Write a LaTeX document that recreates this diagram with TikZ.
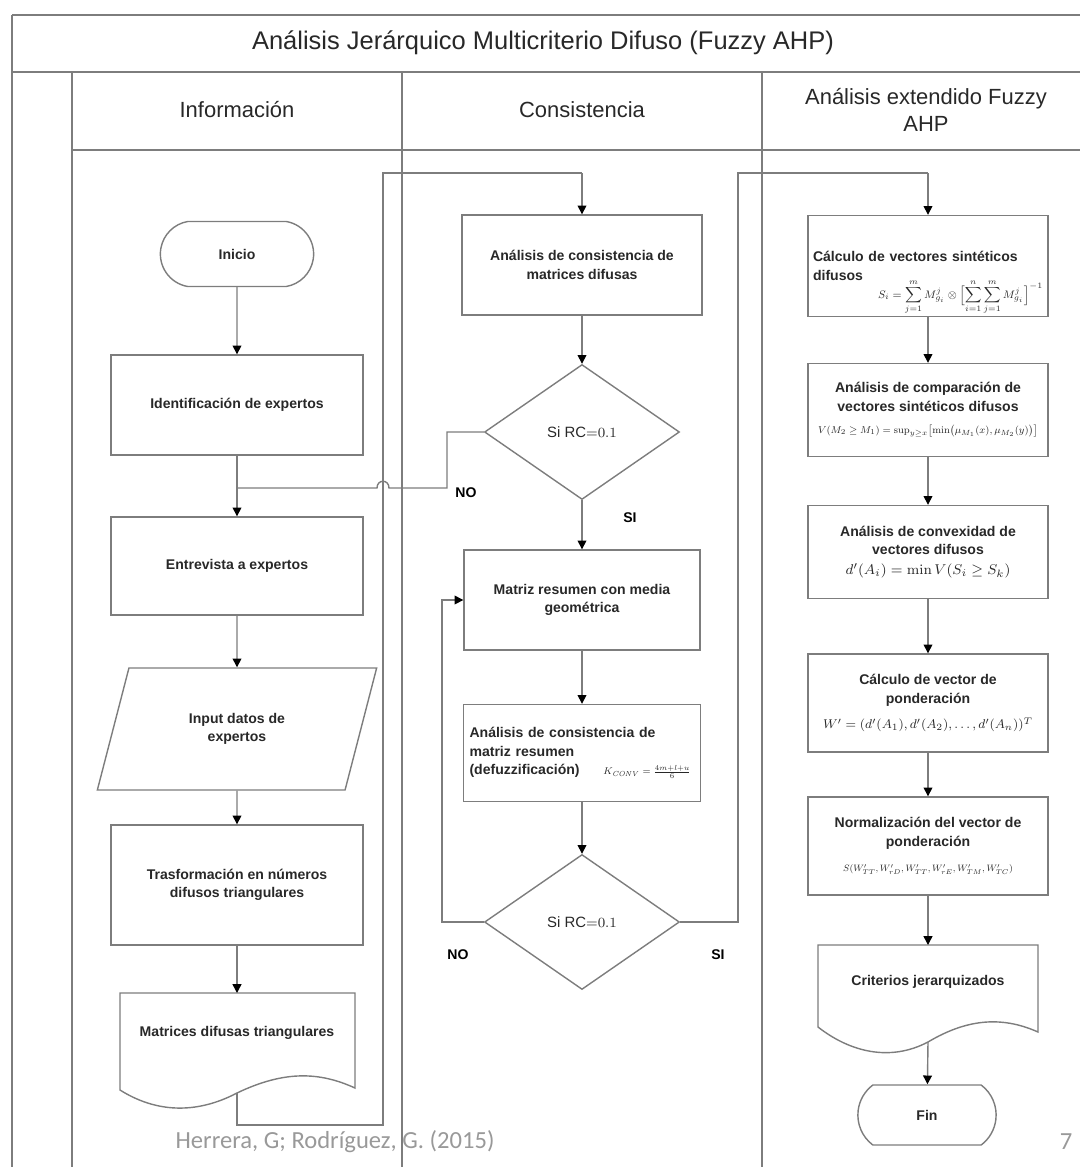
\documentclass[tikz,border=0pt]{standalone}
\usepackage[no-math]{fontspec}
\setmainfont{Liberation Sans}
\newfontfamily\footfont{Carlito}
\usepackage{amsmath}
\usepackage{graphicx}
\usetikzlibrary{shapes.geometric}
\usetikzlibrary{shapes.misc}
\usetikzlibrary{arrows.meta}
\definecolor{linegray}{RGB}{125,125,125}
\definecolor{txtgray}{RGB}{40,40,40}
\tikzset{
    mybox/.style = {rectangle, draw=linegray, line width=0.8pt, align=center, minimum width=4.8cm, minimum height=2cm, inner sep=2pt, font=\fontsize{8}{10.5}\selectfont\bfseries, text=txtgray},
    myterm/.style = {rounded rectangle, rounded rectangle arc length=160, draw=linegray, line width=0.8pt, font=\fontsize{8}{10}\selectfont\bfseries, text=txtgray},
    mydia/.style = {diamond, draw=linegray, line width=0.8pt, inner sep=0pt, minimum width=3.9cm, minimum height=2.7cm, font=\fontsize{8.5}{10}\selectfont, text=txtgray},
    myio/.style = {trapezium, trapezium left angle=70, trapezium right angle=110, trapezium stretches=true, draw=linegray, line width=0.8pt, align=center, minimum width=5.6cm, minimum height=2.44cm, font=\fontsize{8}{10.5}\selectfont\bfseries, text=txtgray},
    mydoc/.style = {align=center, font=\fontsize{8}{10.5}\selectfont\bfseries, text=txtgray},
    docline/.style = {draw=linegray, line width=0.8pt},
    lane/.style = {draw=linegray, line width=0.7pt},
    edgea/.style = {draw=linegray, line width=0.8pt, -{Triangle[length=5pt,width=5pt,color=black]}},
    edgen/.style = {draw=linegray, line width=0.8pt},
    lbl/.style = {font=\fontsize{8}{10}\selectfont\bfseries, text=black},
    hdr/.style = {font=\fontsize{12.5}{15}\selectfont, text=txtgray, align=center}
}

\begin{document}
\begin{tikzpicture}[x=0.02cm,y=-0.02cm]
\useasboundingbox (0,0) rectangle (1080,1167);
% frame and lanes
\draw[lane] (12,15) -- (1080,15);
\draw[lane] (12,15) -- (12,1167);
\draw[lane] (12,72) -- (1080,72);
\draw[lane] (72,72) -- (72,1167);
\draw[lane] (402,72) -- (402,1167);
\draw[lane] (762,72) -- (762,1167);
\draw[lane] (72,150) -- (1080,150);
\node[font=\fontsize{14.5}{16}\selectfont, text=txtgray] (tit) at (543,43) {Análisis Jerárquico Multicriterio Difuso (Fuzzy AHP)};
\node[hdr] (hinf) at (237,110) {Información};
\node[hdr] (hcon) at (582,110) {Consistencia};
\node[hdr] (hext) at (926,110) {Análisis extendido Fuzzy\\AHP};
%
% lane 1
\node[myterm, minimum width=3.3cm, minimum height=1.3cm] (ini) at (237,254) {Inicio};
\node[mybox, minimum width=5.04cm] (ide) at (237,405) {Identificación de expertos};
\node[mybox, minimum width=5.04cm, minimum height=1.96cm] (ent) at (237,566) {Entrevista a expertos};
\node[myio] (inp) at (237,729) {Input datos de\\expertos};
\node[mybox, minimum width=5.04cm, minimum height=2.4cm] (tra) at (237,885) {Trasformación en números\\difusos triangulares};
\node[mydoc] (mat) at (237,1033) {Matrices difusas triangulares};
\draw[docline] (120,993) -- (355,993) -- (355,1088) .. controls (320,1072) and (285,1070) .. (237,1093) .. controls (195,1115) and (155,1112) .. (120,1090) -- cycle;
\coordinate (matb) at (237,1093);
\coordinate (jn) at (237,488);
%
\draw[edgea] (ini) -- (ide);
\draw[edgea] (ide) -- (ent);
\draw[edgea] (ent) -- (inp);
\draw[edgea] (inp) -- (tra);
\draw[edgea] (tra) -- (237,993);
%
% lane 2
\node[mybox] (acm) at (582,265) {Análisis de consistencia de\\matrices difusas};
\node[mydia] (dia1) at (582,432) {Si RC$\mathord{=}0.1$};
\node[mybox, minimum width=4.72cm] (mrg) at (582,600) {Matriz resumen con media\\geométrica};
\node[mybox, minimum width=4.74cm, minimum height=1.94cm, align=left, text width=4.5cm] (acr) at (582,753) {Análisis de consistencia de\\matriz resumen\\(defuzzificación)\hfill\resizebox{1.75cm}{!}{$K_{\mathit{CONV}}=\frac{4m+l+u}{6}$}\hspace*{2pt}};
\node[mydia] (dia2) at (582,922) {Si RC$\mathord{=}0.1$};
%
\draw[edgen] (matb) -- (237,1125) -| (383,173) -- (582,173);
\draw[edgea] (582,173) -- (acm.north);
\draw[edgea] (acm) -- (dia1);
\draw[edgea] (dia1) -- (mrg);
\draw[edgea] (mrg) -- (acr);
\draw[edgea] (acr) -- (dia2);
\draw[edgen] (dia1.west) -| (447,488) -- (389,488) .. controls (389,479) and (377,479) .. (377,488) -- (jn);
\draw[edgea] (dia2.west) -| (442,600) -- (mrg.west);
\draw[edgen] (dia2.east) -| (738,173) -- (928,173);
\node[lbl] (no1) at (466,493) {NO};
\node[lbl] (si1) at (630,518) {SI};
\node[lbl] (no2) at (458,955) {NO};
\node[lbl] (si2) at (718,955) {SI};
%
% lane 3
\node[mybox, minimum height=2.02cm, align=left, text width=4.6cm] (ca1) at (928,266) {Cálculo de vectores sintéticos\\difusos\hfill\raisebox{-2.4ex}[0pt][0pt]{\resizebox{3.3cm}{!}{$\displaystyle S_i=\sum_{j=1}^{m} M_{g_i}^{j}\otimes\Bigl[\sum_{i=1}^{n}\sum_{j=1}^{m} M_{g_i}^{j}\Bigr]^{-1}$}}};
\node[mybox, minimum height=1.86cm] (ca2) at (928,410) {Análisis de comparación de\\vectores sintéticos difusos\\[2pt]\resizebox{4.4cm}{!}{$V(M_2\geq M_1)=\sup_{y\geq x}\bigl[\min\bigl(\mu_{M_1}(x),\mu_{M_2}(y)\bigr)\bigr]$}};
\node[mybox, minimum height=1.86cm] (ca3) at (928,552) {Análisis de convexidad de\\vectores difusos\\[1pt]\resizebox{3.3cm}{!}{$d'(A_i)=\min V(S_i\geq S_k)$}};
\node[mybox, minimum height=1.96cm] (ca4) at (928,703) {Cálculo de vector de\\ponderación\\[4pt]\resizebox{4.2cm}{!}{$W'=(d'(A_1),d'(A_2),\ldots,d'(A_n))^T$}};
\node[mybox, minimum height=1.96cm] (ca5) at (928,846) {Normalización del vector de\\ponderación\\[4pt]\resizebox{3.4cm}{!}{$S(W'_{TT},W'_{rD},W'_{TT},W'_{rE},W'_{TM},W'_{TC})$}};
\node[mydoc] (cri) at (928,982) {Criterios jerarquizados};
\draw[docline] (818,945) -- (1038,945) -- (1038,1032) .. controls (1000,1015) and (965,1020) .. (928,1042) .. controls (890,1062) and (850,1052) .. (818,1027) -- cycle;
\coordinate (crib) at (928,1042);
\node[myterm, rounded rectangle arc length=106, minimum width=3.0cm, minimum height=1.2cm] (fin) at (927,1115) {Fin};
%
\draw[edgea] (928,173) -- (ca1.north);
\draw[edgea] (ca1) -- (ca2);
\draw[edgea] (ca2) -- (ca3);
\draw[edgea] (ca3) -- (ca4);
\draw[edgea] (ca4) -- (ca5);
\draw[edgea] (ca5) -- (928,945);
\draw[edgea] (crib) -- (fin);
%
% source
\node[font=\footfont\fontsize{14}{16}\selectfont, text=gray!80] (src) at (335,1142) {Herrera, G; Rodríguez, G. (2015)};
\node[font=\footfont\fontsize{14}{16}\selectfont, text=gray!80] (pg) at (1066,1142) {7};
\end{tikzpicture}
\end{document}
